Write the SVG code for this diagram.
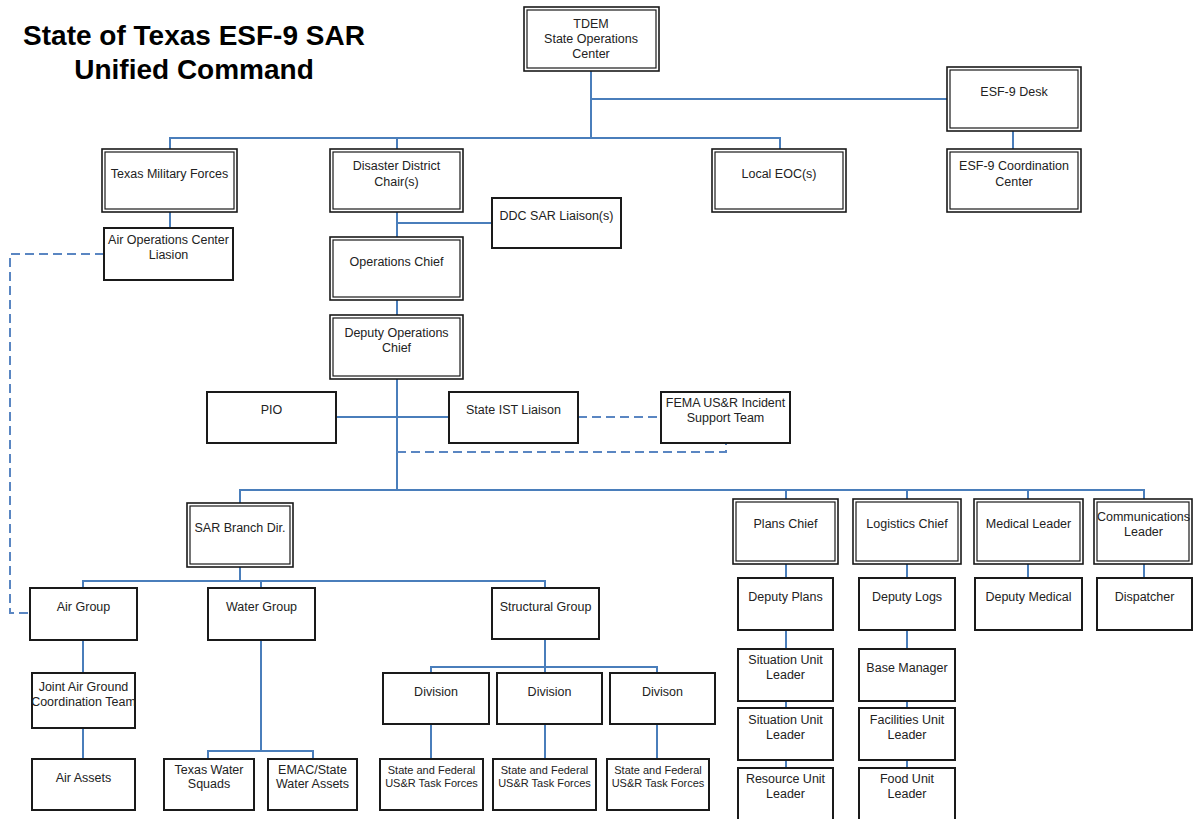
<svg xmlns="http://www.w3.org/2000/svg" width="1193" height="819" viewBox="0 0 1193 819">
<style>
.o{fill:#fff;stroke:#1a1a1a;stroke-width:1.6}
.i{fill:none;stroke:#1a1a1a;stroke-width:1.2}
.s{fill:#fff;stroke:#1a1a1a;stroke-width:2}
text{font-family:"Liberation Sans",Arial,sans-serif;font-size:12.5px;fill:#222;text-anchor:middle}
.sm{font-size:11px}
.title{font-size:28px;font-weight:bold;fill:#000}
.c{fill:none;stroke:#4a7ebb;stroke-width:2}
.d{fill:none;stroke:#5a86c2;stroke-width:2;stroke-dasharray:9 5}
</style>
<rect width="1193" height="819" fill="#fff"/>
<text class="title" x="194" y="45">State of Texas ESF-9 SAR</text>
<text class="title" x="194" y="79">Unified Command</text>
<g id="connectors">
<path class="c" d="M591 71V138M591 99H947M170 149V138H780V149M397 138V149M1013 131V149M170 212V228M397 212V237M397 223H492M397 300V315M397 379V490M336 417H449M240 503V490H1144V499M786 490V499M907 490V499M1028 490V499M240 567V581M83 588V581H545V588M261 581V588M83 640V673M83 728V759M261 640V751M208 759V751H313V759M545 639V667M431 673V667H657V673M545 667V673M431 724V759M545 724V759M657 724V759M786 564V578M786 630V649M786 701V708M786 760V768M907 564V578M907 630V649M907 701V708M907 760V768M1028 564V578M1144 564V578"/>
<path class="d" d="M104 254H10V613H30M578 417H661M397 452H726V443"/>
</g>
<g id="tdem"><rect class="o" x="524" y="7" width="135" height="64"/><rect class="i" x="527" y="10" width="129" height="58"/><text x="591" y="27.5">TDEM</text><text x="591" y="42.5">State Operations</text><text x="591" y="57.5">Center</text></g>
<g id="esf9desk"><rect class="o" x="947" y="67" width="134" height="64"/><rect class="i" x="950" y="70" width="128" height="58"/><text x="1014" y="96">ESF-9 Desk</text></g>
<g id="esf9coord"><rect class="o" x="947" y="149" width="134" height="63"/><rect class="i" x="950" y="152" width="128" height="57"/><text x="1014" y="169.5">ESF-9 Coordination</text><text x="1014" y="185.5">Center</text></g>
<g id="tmf"><rect class="o" x="102" y="149" width="135" height="63"/><rect class="i" x="105" y="152" width="129" height="57"/><text x="169.5" y="177.5">Texas Military Forces</text></g>
<g id="ddc"><rect class="o" x="330" y="149" width="133" height="63"/><rect class="i" x="333" y="152" width="127" height="57"/><text x="396.5" y="169.5">Disaster District</text><text x="396.5" y="186">Chair(s)</text></g>
<g id="localeoc"><rect class="o" x="712" y="149" width="134" height="63"/><rect class="i" x="715" y="152" width="128" height="57"/><text x="779" y="177.5">Local EOC(s)</text></g>
<g id="aoc"><rect class="s" x="104" y="228" width="129" height="52"/><text x="168.5" y="243.5">Air Operations Center</text><text x="168.5" y="258.5">Liasion</text></g>
<g id="ddcsar"><rect class="s" x="492" y="198" width="129" height="50"/><text x="556.5" y="219.5">DDC SAR Liaison(s)</text></g>
<g id="opschief"><rect class="o" x="330" y="237" width="133" height="63"/><rect class="i" x="333" y="240" width="127" height="57"/><text x="396.5" y="265.5">Operations Chief</text></g>
<g id="depops"><rect class="o" x="330" y="315" width="133" height="64"/><rect class="i" x="333" y="318" width="127" height="58"/><text x="396.5" y="336.5">Deputy Operations</text><text x="396.5" y="351.5">Chief</text></g>
<g id="pio"><rect class="s" x="207" y="392" width="129" height="51"/><text x="271.5" y="413.5">PIO</text></g>
<g id="stateist"><rect class="s" x="449" y="392" width="129" height="51"/><text x="513.5" y="413.5">State IST Liaison</text></g>
<g id="fema"><rect class="s" x="661" y="392" width="129" height="51"/><text x="725.5" y="406.5">FEMA US&amp;R Incident</text><text x="725.5" y="421.5">Support Team</text></g>
<g id="sarbranch"><rect class="o" x="187" y="503" width="106" height="64"/><rect class="i" x="190" y="506" width="100" height="58"/><text x="240" y="531.5">SAR Branch Dir.</text></g>
<g id="airgroup"><rect class="s" x="30" y="588" width="107" height="52"/><text x="83.5" y="610.5">Air Group</text></g>
<g id="watergroup"><rect class="s" x="208" y="588" width="107" height="52"/><text x="261.5" y="610.5">Water Group</text></g>
<g id="structgroup"><rect class="s" x="492" y="588" width="107" height="51"/><text x="545.5" y="611">Structural Group</text></g>
<g id="jagct"><rect class="s" x="32" y="673" width="103" height="55"/><text x="83.5" y="690.5">Joint Air Ground</text><text x="83.5" y="705.5">Coordination Team</text></g>
<g id="airassets"><rect class="s" x="32" y="759" width="103" height="51"/><text x="83.5" y="781.5">Air Assets</text></g>
<g id="txwater"><rect class="s" x="164" y="759" width="90" height="51"/><text x="209" y="773.5">Texas Water</text><text x="209" y="788">Squads</text></g>
<g id="emac"><rect class="s" x="268" y="759" width="89" height="51"/><text x="312.5" y="773.5">EMAC/State</text><text x="312.5" y="788">Water Assets</text></g>
<g id="div1"><rect class="s" x="383" y="673" width="106" height="51"/><text x="436" y="695.5">Division</text></g>
<g id="div2"><rect class="s" x="497" y="673" width="105" height="51"/><text x="549.5" y="695.5">Division</text></g>
<g id="div3"><rect class="s" x="610" y="673" width="105" height="51"/><text x="662.5" y="695.5">Divison</text></g>
<g id="tf1"><rect class="s" x="380" y="759" width="103" height="51"/><text class="sm" x="431.5" y="774">State and Federal</text><text class="sm" x="431.5" y="786.5">US&amp;R Task Forces</text></g>
<g id="tf2"><rect class="s" x="493" y="759" width="103" height="51"/><text class="sm" x="544.5" y="774">State and Federal</text><text class="sm" x="544.5" y="786.5">US&amp;R Task Forces</text></g>
<g id="tf3"><rect class="s" x="607" y="759" width="102" height="51"/><text class="sm" x="658" y="774">State and Federal</text><text class="sm" x="658" y="786.5">US&amp;R Task Forces</text></g>
<g id="planschief"><rect class="o" x="733" y="499" width="105" height="65"/><rect class="i" x="736" y="502" width="99" height="59"/><text x="785.5" y="527.5">Plans Chief</text></g>
<g id="logchief"><rect class="o" x="853" y="499" width="108" height="65"/><rect class="i" x="856" y="502" width="102" height="59"/><text x="907" y="527.5">Logistics Chief</text></g>
<g id="medleader"><rect class="o" x="974" y="499" width="109" height="65"/><rect class="i" x="977" y="502" width="103" height="59"/><text x="1028.5" y="527.5">Medical Leader</text></g>
<g id="commleader"><rect class="o" x="1094" y="499" width="98" height="65"/><rect class="i" x="1097" y="502" width="92" height="59"/><text x="1143.5" y="520.5">Communications</text><text x="1143.5" y="535.5">Leader</text></g>
<g id="depplans"><rect class="s" x="738" y="578" width="95" height="52"/><text x="785.5" y="600.5">Deputy Plans</text></g>
<g id="deplogs"><rect class="s" x="859" y="578" width="96" height="52"/><text x="907" y="600.5">Deputy Logs</text></g>
<g id="depmed"><rect class="s" x="975" y="578" width="107" height="52"/><text x="1028.5" y="600.5">Deputy Medical</text></g>
<g id="dispatcher"><rect class="s" x="1097" y="578" width="95" height="52"/><text x="1144.5" y="600.5">Dispatcher</text></g>
<g id="sit1"><rect class="s" x="738" y="649" width="95" height="52"/><text x="785.5" y="663.5">Situation Unit</text><text x="785.5" y="678.5">Leader</text></g>
<g id="sit2"><rect class="s" x="738" y="708" width="95" height="52"/><text x="785.5" y="723.5">Situation Unit</text><text x="785.5" y="738.5">Leader</text></g>
<g id="resource"><rect class="s" x="738" y="768" width="95" height="52"/><text x="785.5" y="782.5">Resource Unit</text><text x="785.5" y="798">Leader</text></g>
<g id="basemgr"><rect class="s" x="859" y="649" width="96" height="52"/><text x="907" y="671.5">Base Manager</text></g>
<g id="facilities"><rect class="s" x="859" y="708" width="96" height="52"/><text x="907" y="723.5">Facilities Unit</text><text x="907" y="738.5">Leader</text></g>
<g id="food"><rect class="s" x="859" y="768" width="96" height="52"/><text x="907" y="782.5">Food Unit</text><text x="907" y="798">Leader</text></g>
</svg>
